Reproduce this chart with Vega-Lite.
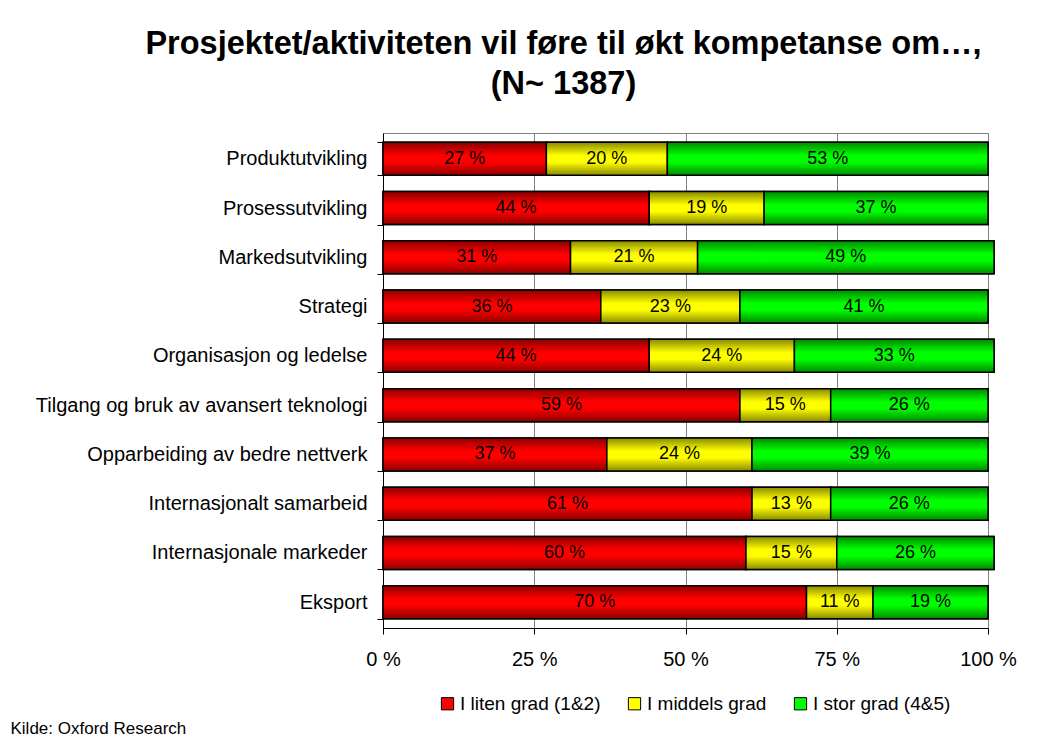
{
  "$schema": "https://vega.github.io/schema/vega-lite/v6.json",
  "width": 605,
  "height": 495,
  "autosize": "none",
  "padding": {"left": 383, "top": 133, "right": 51, "bottom": 114},
  "background": "white",
  "title": {
    "text": ["Prosjektet/aktiviteten vil føre til økt kompetanse om…,", "(N~ 1387)"],
    "font": "Liberation Sans",
    "fontSize": 32.5,
    "fontWeight": "bold",
    "color": "black",
    "anchor": "middle",
    "frame": "group",
    "dx": -122,
    "offset": 23,
    "lineHeight": 40
  },
  "data": {
    "values": [
      {"cat": "Produktutvikling", "grp": "I liten grad (1&2)", "ord": 1, "v": 27},
      {"cat": "Produktutvikling", "grp": "I middels grad", "ord": 2, "v": 20},
      {"cat": "Produktutvikling", "grp": "I stor grad (4&5)", "ord": 3, "v": 53},
      {"cat": "Prosessutvikling", "grp": "I liten grad (1&2)", "ord": 1, "v": 44},
      {"cat": "Prosessutvikling", "grp": "I middels grad", "ord": 2, "v": 19},
      {"cat": "Prosessutvikling", "grp": "I stor grad (4&5)", "ord": 3, "v": 37},
      {"cat": "Markedsutvikling", "grp": "I liten grad (1&2)", "ord": 1, "v": 31},
      {"cat": "Markedsutvikling", "grp": "I middels grad", "ord": 2, "v": 21},
      {"cat": "Markedsutvikling", "grp": "I stor grad (4&5)", "ord": 3, "v": 49},
      {"cat": "Strategi", "grp": "I liten grad (1&2)", "ord": 1, "v": 36},
      {"cat": "Strategi", "grp": "I middels grad", "ord": 2, "v": 23},
      {"cat": "Strategi", "grp": "I stor grad (4&5)", "ord": 3, "v": 41},
      {"cat": "Organisasjon og ledelse", "grp": "I liten grad (1&2)", "ord": 1, "v": 44},
      {"cat": "Organisasjon og ledelse", "grp": "I middels grad", "ord": 2, "v": 24},
      {"cat": "Organisasjon og ledelse", "grp": "I stor grad (4&5)", "ord": 3, "v": 33},
      {"cat": "Tilgang og bruk av avansert teknologi ", "grp": "I liten grad (1&2)", "ord": 1, "v": 59},
      {"cat": "Tilgang og bruk av avansert teknologi ", "grp": "I middels grad", "ord": 2, "v": 15},
      {"cat": "Tilgang og bruk av avansert teknologi ", "grp": "I stor grad (4&5)", "ord": 3, "v": 26},
      {"cat": "Opparbeiding av bedre nettverk", "grp": "I liten grad (1&2)", "ord": 1, "v": 37},
      {"cat": "Opparbeiding av bedre nettverk", "grp": "I middels grad", "ord": 2, "v": 24},
      {"cat": "Opparbeiding av bedre nettverk", "grp": "I stor grad (4&5)", "ord": 3, "v": 39},
      {"cat": "Internasjonalt samarbeid", "grp": "I liten grad (1&2)", "ord": 1, "v": 61},
      {"cat": "Internasjonalt samarbeid", "grp": "I middels grad", "ord": 2, "v": 13},
      {"cat": "Internasjonalt samarbeid", "grp": "I stor grad (4&5)", "ord": 3, "v": 26},
      {"cat": "Internasjonale markeder", "grp": "I liten grad (1&2)", "ord": 1, "v": 60},
      {"cat": "Internasjonale markeder", "grp": "I middels grad", "ord": 2, "v": 15},
      {"cat": "Internasjonale markeder", "grp": "I stor grad (4&5)", "ord": 3, "v": 26},
      {"cat": "Eksport", "grp": "I liten grad (1&2)", "ord": 1, "v": 70},
      {"cat": "Eksport", "grp": "I middels grad", "ord": 2, "v": 11},
      {"cat": "Eksport", "grp": "I stor grad (4&5)", "ord": 3, "v": 19}
    ]
  },
  "transform": [
    {"stack": "v", "groupby": ["cat"], "sort": [{"field": "ord"}], "as": ["x0", "x1"]},
    {"calculate": "(datum.x0 + datum.x1) / 2", "as": "mid"},
    {"calculate": "datum.v + ' %'", "as": "lab"}
  ],
  "encoding": {
    "y": {
      "field": "cat",
      "type": "nominal",
      "sort": null,
      "title": null,
      "scale": {"paddingInner": 0.33, "paddingOuter": 0.19},
      "axis": {
        "domainColor": "black",
        "tickColor": "black",
        "tickSize": 6,
        "tickBand": "extent",
        "labelFont": "Liberation Sans",
        "labelFontSize": 20,
        "labelColor": "black",
        "labelPadding": 10,
        "labelLimit": 500,
        "grid": false
      }
    },
    "x": {
      "field": "x0",
      "type": "quantitative",
      "scale": {"domain": [0, 100], "nice": false},
      "axis": {
        "values": [0, 25, 50, 75, 100],
        "labelExpr": "datum.value + ' %'",
        "labelFlush": false,
        "labelFont": "Liberation Sans",
        "labelFontSize": 20,
        "labelColor": "black",
        "labelPadding": 15,
        "domainColor": "black",
        "tickColor": "black",
        "tickSize": 6,
        "grid": true,
        "gridColor": "#808080",
        "gridWidth": 1,
        "title": "Kilde: Oxford Research",
        "titleFont": "Liberation Sans",
        "titleFontSize": 17,
        "titleFontWeight": "normal",
        "titleColor": "black",
        "titleAnchor": "start",
        "titleAlign": "left",
        "titleBaseline": "alphabetic",
        "titleX": -373,
        "titleY": 105
      }
    },
    "x2": {"field": "x1"}
  },
  "layer": [
    {
      "mark": {"type": "bar", "stroke": "black", "strokeWidth": 1.5},
      "encoding": {
        "color": {
          "field": "grp",
          "type": "nominal",
          "sort": null,
          "scale": {
            "domain": ["I liten grad (1&2)", "I middels grad", "I stor grad (4&5)"],
            "range": ["#ff0000", "#ffff00", "#00ff00"]
          },
          "legend": {
            "title": null,
            "orient": "none",
            "direction": "horizontal",
            "legendX": 55,
            "legendY": 561,
            "symbolType": "square",
            "symbolSize": 150,
            "symbolStrokeColor": "black",
            "symbolStrokeWidth": 1,
            "labelFont": "Liberation Sans",
            "labelFontSize": 19,
            "labelColor": "black",
            "labelOffset": 3,
            "columnPadding": 24
          }
        }
      }
    },
    {
      "transform": [{"filter": "datum.ord == 1"}],
      "mark": {"type": "bar", "stroke": "black", "strokeWidth": 1.5,
        "color": {"gradient": "linear", "x1": 0, "y1": 0, "x2": 0, "y2": 1, "stops": [{"offset": 0, "color": "#8a0000"}, {"offset": 0.4, "color": "#ff0000"}, {"offset": 0.6, "color": "#ff0000"}, {"offset": 1, "color": "#8a0000"}]}}
    },
    {
      "transform": [{"filter": "datum.ord == 2"}],
      "mark": {"type": "bar", "stroke": "black", "strokeWidth": 1.5,
        "color": {"gradient": "linear", "x1": 0, "y1": 0, "x2": 0, "y2": 1, "stops": [{"offset": 0, "color": "#8a8a00"}, {"offset": 0.4, "color": "#ffff00"}, {"offset": 0.6, "color": "#ffff00"}, {"offset": 1, "color": "#8a8a00"}]}}
    },
    {
      "transform": [{"filter": "datum.ord == 3"}],
      "mark": {"type": "bar", "stroke": "black", "strokeWidth": 1.5,
        "color": {"gradient": "linear", "x1": 0, "y1": 0, "x2": 0, "y2": 1, "stops": [{"offset": 0, "color": "#008a00"}, {"offset": 0.4, "color": "#00ff00"}, {"offset": 0.6, "color": "#00ff00"}, {"offset": 1, "color": "#008a00"}]}}
    },
    {
      "mark": {"type": "text", "font": "Liberation Sans", "fontSize": 18, "color": "black", "baseline": "middle", "align": "center"},
      "encoding": {
        "x": {"field": "mid", "type": "quantitative"},
        "x2": null,
        "text": {"field": "lab"}
      }
    }
  ],
  "config": {
    "view": {"stroke": "#808080"}
  }
}
